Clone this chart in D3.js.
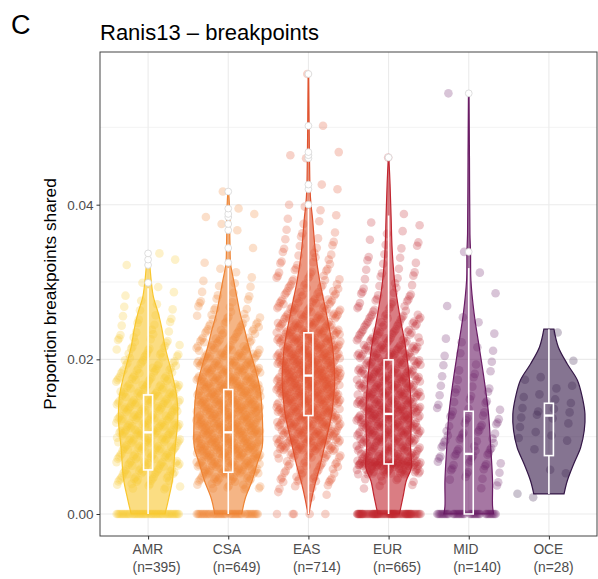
<!DOCTYPE html>
<html>
<head>
<meta charset="utf-8">
<script src="https://cdn.jsdelivr.net/npm/d3@7"></script>
<style>
  body { margin: 0; background: #fff; }
  svg { display: block; font-family: "Liberation Sans", Arial, sans-serif; }
</style>
</head>
<body>
<div class="container"></div>
<script>
/* groups and labels */
const groups = ["AMR", "CSA", "EAS", "EUR", "MID", "OCE"];
const groupN = [395, 649, 714, 665, 140, 28];
const groupColors = ["#F9C72E", "#EE8434", "#E0532F", "#C12630", "#6A1C65", "#341747"];

/* boxplot stats: [lower whisker, q1, median, q3, upper whisker] */
const boxStats = [
  [0, 0.0057, 0.01056, 0.0154, 0.0292],
  [0, 0.0054, 0.01056, 0.0161, 0.0318],
  [0, 0.01273, 0.0179, 0.02343, 0.0395],
  [0, 0.00647, 0.01294, 0.01993, 0.0386],
  [0, 0, 0.00777, 0.01328, 0.0318],
  [0.0026, 0.00755, 0.01273, 0.01432, 0.0239]
];
const outlierValues = [
  [0.0299, 0.0322, 0.0329, 0.0337],
  [0.0325, 0.0344, 0.0367, 0.0375, 0.0384, 0.0388, 0.0395, 0.0417],
  [0.040, 0.042, 0.0426, 0.046, 0.0464, 0.0468, 0.0502, 0.0569],
  [0.0461],
  [0.0339, 0.0544],
  []
];

/* violin outlines: [value, relative density] */
const violinAMR = [[0, .47], [.002, .57], [.0045, .68], [.0086, .75], [.012, .82], [.015, .80], [.018, .67],
  [.0216, .47], [.024, .38], [.026, .28], [.028, .15], [.030, .09], [.032, .05], [.0337, .015]];
const violinCSA = [[0, .375], [.002, .47], [.0043, .66], [.0065, .80], [.0086, .94], [.0108, .955], [.013, .94],
  [.0151, .91], [.0173, .83], [.0194, .71], [.0216, .57], [.0237, .46], [.0259, .33], [.028, .24], [.0302, .15],
  [.0324, .064], [.0345, .05], [.0362, .042], [.038, .045], [.0397, .033], [.041, .02], [.0417, .008]];
const violinEAS = [[0, .015], [.0017, .08], [.004, .19], [.006, .31], [.0086, .44], [.0104, .53], [.013, .65],
  [.0147, .69], [.0173, .73], [.0194, .71], [.0216, .67], [.0259, .50], [.0302, .31], [.0341, .19], [.0384, .11],
  [.0401, .07], [.042, .045], [.046, .03], [.050, .02], [.0569, .008]];
const violinEUR = [[0, .30], [.0022, .40], [.0043, .49], [.006, .63], [.0086, .61], [.013, .63], [.0173, .58],
  [.0216, .47], [.0259, .30], [.030, .17], [.0341, .10], [.0384, .07], [.0427, .04], [.0461, .008]];
const violinMID = [[0, .69], [.001, .66], [.0043, .66], [.0086, .61], [.0129, .55], [.0173, .43], [.0216, .29],
  [.0259, .15], [.0302, .06], [.0339, .05], [.0362, .033], [.046, .02], [.0544, .008]];
const violinOCE = [[.0026, .42], [.0043, .51], [.0065, .69], [.0086, .88], [.0108, .98], [.0129, 1.0], [.0151, .925],
  [.0173, .79], [.0194, .51], [.0216, .26], [.0239, .14]];
const violins = [violinAMR, violinCSA, violinEAS, violinEUR, violinMID, violinOCE];

/* points: count of exact zeros, then counts per 0.001-wide bin (outliers listed above) */
const zeroCounts = [49, 46, 5, 73, 38, 0];
const binsAMR = [0,0,0,8,14,16,17,18,20,21,22,22,22,21,20,19,17,15,13,11,10,8,7,5,4,4,3,2,2,1];
const binsCSA = [0,0,0,10,18,24,28,31,34,34,35,35,34,33,34,33,31,29,26,23,20,17,14,12,10,8,6,5,4,3,2,2];
const binsEAS = [0,0,3,4,12,9,12,16,25,30,27,27,30,32,33,35,37,37,37,35,33,31,29,26,23,20,17,15,12,10,9,7,6,5,4,4,3,2,2,2];
const binsEUR = [0,0,0,3,6,28,58,25,23,25,27,28,33,31,27,27,26,25,24,23,22,20,18,16,14,12,8,7,6,5,4,4,3,3,3,2,2,2,1];
const binsMID = [0,0,0,2,4,6,7,8,8,7,7,6,6,5,5,4,4,3,3,3,2,2,2,1,1,1,1,0,1,0,0,1];
const binsOCE = [0,0,2,0,0,2,0,0,1,2,2,2,3,4,2,2,2,2,0,1,0,0,0,1];
const pointBins = [binsAMR, binsCSA, binsEAS, binsEUR, binsMID, binsOCE];
const binWidth = 0.001;

const yTicks = [0, 0.02, 0.04];
const yMinor = [0.01, 0.03, 0.05];

const w = 598;
const h = 579;
const pLeft = 100, pRight = 597, pTop = 52, pBottom = 536;

const svg = d3.select(".container")
  .append("svg")
  .attr("width", w)
  .attr("height", h);

const xScale = d3.scalePoint().domain(groups).range([pLeft, pRight]).padding(0.6);
const yMax = 0.0569;
const yScale = d3.scaleLinear()
  .domain([-yMax * 0.05, yMax * 1.05])
  .range([pBottom, pTop]);
const widthScale = d3.scaleLinear().domain([0, 1]).range([0, 0.45 * xScale.step()]);

/* grid */
const grid = svg.append("g");
grid.selectAll(".minor").data(yMinor).enter().append("line")
  .attr("x1", pLeft).attr("x2", pRight)
  .attr("y1", d => yScale(d)).attr("y2", d => yScale(d))
  .attr("stroke", "#EBEBEB").attr("stroke-width", 0.6);
grid.selectAll(".major").data(yTicks).enter().append("line")
  .attr("x1", pLeft).attr("x2", pRight)
  .attr("y1", d => yScale(d)).attr("y2", d => yScale(d))
  .attr("stroke", "#EBEBEB").attr("stroke-width", 1.1);
grid.selectAll(".vmajor").data(groups).enter().append("line")
  .attr("x1", d => xScale(d)).attr("x2", d => xScale(d))
  .attr("y1", pTop).attr("y2", pBottom)
  .attr("stroke", "#EBEBEB").attr("stroke-width", 1.1);

/* violins */
groups.forEach((g, gi) => {
  const cx = xScale(g);
  const area = d3.area()
    .curve(d3.curveCatmullRom)
    .y(d => yScale(d[0]))
    .x0(d => cx - widthScale(d[1]))
    .x1(d => cx + widthScale(d[1]));
  svg.append("path")
    .datum(violins[gi])
    .attr("d", area)
    .attr("fill", groupColors[gi])
    .attr("fill-opacity", 0.6)
    .attr("stroke", groupColors[gi])
    .attr("stroke-width", 1.2);
});

/* jittered points (deterministic jitter so the picture is stable) */
groups.forEach((g, gi) => {
  const cx = xScale(g);
  const jit = 0.4 * xScale.step();
  const data = [];
  let k = 0;
  const jitter = () => {
    k++;
    return [(0.5 + k * 0.7548776662) % 1, (0.5 + k * 0.5698402910) % 1];
  };
  for (let i = 0; i < zeroCounts[gi]; i++) {
    const [u1] = jitter();
    data.push({ x: cx + (u1 * 2 - 1) * jit, v: 0 });
  }
  pointBins[gi].forEach((c, bi) => {
    for (let i = 0; i < c; i++) {
      const [u1, u2] = jitter();
      data.push({ x: cx + (u1 * 2 - 1) * jit, v: (bi + 0.5 + (u2 - 0.5) * 0.8) * binWidth });
    }
  });
  outlierValues[gi].forEach(v => {
    const [u1] = jitter();
    data.push({ x: cx + (u1 * 2 - 1) * jit, v: v });
  });
  svg.append("g").selectAll("circle")
    .data(data)
    .enter()
    .append("circle")
    .attr("cx", d => d.x)
    .attr("cy", d => yScale(d.v))
    .attr("r", 4.3)
    .attr("fill", groupColors[gi])
    .attr("fill-opacity", 0.26);
});

/* boxplots */
groups.forEach((g, gi) => {
  const cx = xScale(g);
  const [lo, q1, med, q3, hi] = boxStats[gi];
  const b = svg.append("g");
  b.append("line").attr("x1", cx).attr("x2", cx)
    .attr("y1", yScale(q3)).attr("y2", yScale(hi))
    .attr("stroke", "#fff").attr("stroke-width", 1.6);
  if (q1 > lo) {
    b.append("line").attr("x1", cx).attr("x2", cx)
      .attr("y1", yScale(q1)).attr("y2", yScale(lo))
      .attr("stroke", "#fff").attr("stroke-width", 1.6);
  }
  b.append("rect")
    .attr("x", cx - 4.5).attr("width", 9)
    .attr("y", yScale(q3)).attr("height", yScale(q1) - yScale(q3))
    .attr("fill", "none").attr("stroke", "#fff").attr("stroke-width", 1.6);
  b.append("line").attr("x1", cx - 4.5).attr("x2", cx + 4.5)
    .attr("y1", yScale(med)).attr("y2", yScale(med))
    .attr("stroke", "#fff").attr("stroke-width", 2.4);
  b.selectAll("circle")
    .data(outlierValues[gi])
    .enter()
    .append("circle")
    .attr("cx", cx)
    .attr("cy", d => yScale(d))
    .attr("r", 3.4)
    .attr("fill", "#fff")
    .attr("stroke", "#d6d6d6")
    .attr("stroke-width", 0.8);
});

/* panel border */
svg.append("rect")
  .attr("x", pLeft).attr("y", pTop)
  .attr("width", pRight - pLeft).attr("height", pBottom - pTop)
  .attr("fill", "none").attr("stroke", "#444").attr("stroke-width", 1);

/* axes */
const yAxis = d3.axisLeft(yScale).tickValues(yTicks).tickFormat(d3.format(".2f")).tickSize(3.5).tickPadding(3);
const gy = svg.append("g").attr("transform", "translate(" + pLeft + ",0)").call(yAxis);
gy.select(".domain").remove();
gy.selectAll(".tick line").attr("stroke", "#333");
gy.selectAll(".tick text").attr("fill", "#4D4D4D").style("font-size", "13.5px")
  .style("font-family", "'Liberation Sans', Arial, sans-serif");

const xAxis = d3.axisBottom(xScale).tickSize(3.5).tickFormat("");
const gx = svg.append("g").attr("transform", "translate(0," + pBottom + ")").call(xAxis);
gx.select(".domain").remove();
gx.selectAll(".tick line").attr("stroke", "#333");

const xl = svg.append("g").selectAll("text")
  .data(groups)
  .enter()
  .append("text")
  .attr("fill", "#4D4D4D")
  .style("font-size", "13.8px");
xl.append("tspan").attr("x", d => xScale(d) - 15.5).attr("y", 554).text(d => d);
xl.append("tspan").attr("x", d => xScale(d) - 15.5).attr("y", 571.5)
  .text((d, i) => "(n=" + groupN[i] + ")");

/* titles */
const midY = (pTop + pBottom) / 2;
svg.append("text")
  .attr("x", 56)
  .attr("y", midY)
  .attr("transform", "rotate(-90,56," + midY + ")")
  .attr("text-anchor", "middle")
  .style("font-size", "17.3px")
  .attr("fill", "#000")
  .text("Proportion breakpoints shared");

svg.append("text")
  .attr("x", 100)
  .attr("y", 40)
  .style("font-size", "22px")
  .attr("fill", "#000")
  .text("Ranis13 – breakpoints");

svg.append("text")
  .attr("x", 11)
  .attr("y", 34)
  .style("font-size", "27px")
  .attr("fill", "#000")
  .text("C");
</script>
</body>
</html>
